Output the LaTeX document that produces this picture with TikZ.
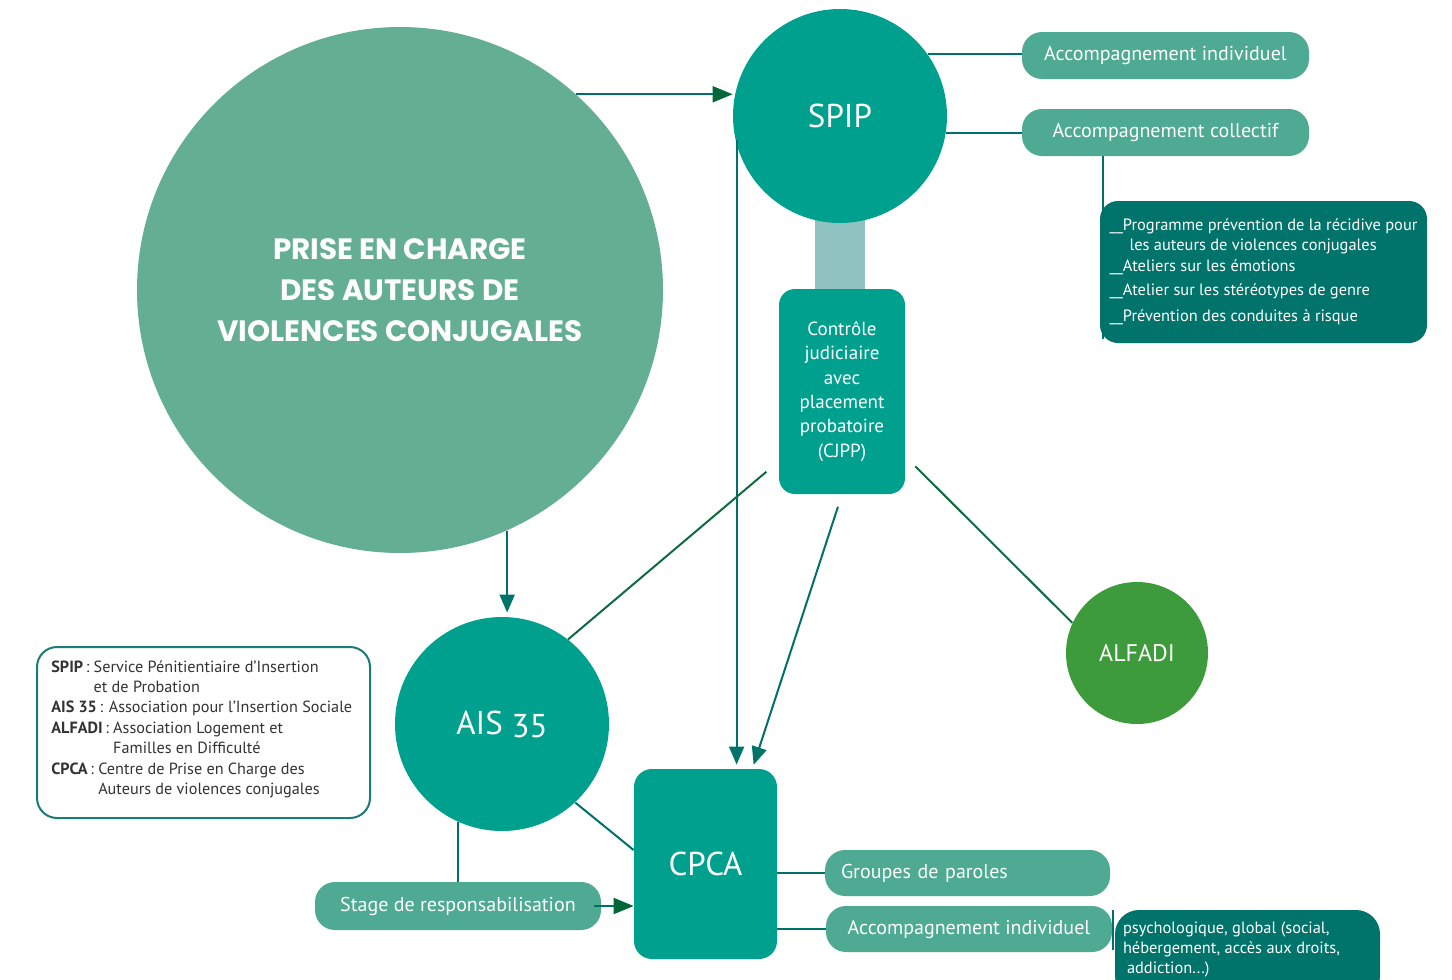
\documentclass[tikz,border=0pt]{standalone}
\usepackage{fontspec}
\setmainfont{PT Sans}
\newfontfamily\titlefont{Poppins}[UprightFont=* Bold]
\usetikzlibrary{arrows.meta,calc}
\definecolor{bigc}{HTML}{64AF93}
\definecolor{tealc}{HTML}{00A08F}
\definecolor{lblc}{HTML}{4EAA93}
\definecolor{darkc}{HTML}{00736B}
\definecolor{alfc}{HTML}{3E9B3B}
\definecolor{lightc}{HTML}{8FC2C0}
\definecolor{linec}{HTML}{00706A}
\definecolor{lineg}{HTML}{0E6B40}
\definecolor{arrg}{HTML}{006838}
\definecolor{legc}{HTML}{1B7B77}
\definecolor{legtext}{HTML}{333333}
\begin{document}
\begin{tikzpicture}[x=0.5pt,y=-0.5pt,
  circ/.style={circle, inner sep=0pt, text=white},
  lbl/.style={rectangle, rounded corners=10pt, fill=lblc, text=white,
    font=\fontsize{10}{12}\selectfont, minimum width=143.5pt, minimum height=23.5pt, inner sep=0pt},
  sq/.style={rectangle, rounded corners=8pt, fill=tealc, text=white, inner sep=0pt},
  darkbox/.style={rectangle, rounded corners=9pt, fill=darkc, text=white, inner sep=0pt},
  conn/.style={draw=linec, line width=1pt},
  gconn/.style={draw=lineg, line width=1pt},
  tarrow/.style={conn, -{Triangle[length=9pt,width=7.5pt,color=darkc]}},
  garrow/.style={conn, -{Triangle[length=10pt,width=8pt,color=arrg]}}
]
\useasboundingbox (0,0) rectangle (1452,980);
\clip (0,0) rectangle (1452,980);

% background connector between SPIP and CJPP
\node[rectangle, fill=lightc, minimum width=25pt, minimum height=36pt, inner sep=0pt] (bridge) at (840,256) {};

% main circle
\node[circ, fill=bigc, minimum size=263pt, align=center,
  font=\titlefont\fontsize{14.7}{20.5}\selectfont] (main) at (400,290)
  {PRISE EN CHARGE\\DES AUTEURS DE\\VIOLENCES CONJUGALES};

% SPIP
\node[circ, fill=tealc, minimum size=107pt, font=\fontsize{16.5}{18}\selectfont] (spip) at (840,116) {SPIP};

% CJPP
\node[sq, minimum width=63pt, minimum height=102.5pt, align=center,
  font=\fontsize{9.5}{12.2}\selectfont] (cjpp) at (842,391.5)
  {Contrôle\\judiciaire\\avec\\placement\\probatoire\\(CJPP)};

% right top labels
\node[lbl] (ind1) at (1165.5,55.5) {Accompagnement individuel};
\node[lbl] (col) at (1165.5,132.5) {Accompagnement collectif};

\node[darkbox, minimum width=163.5pt, minimum height=71pt, align=left,
  font=\fontsize{8.2}{10}\selectfont] (prog) at (1263.5,272)
  {\_\_Programme prévention de la récidive pour\\
   \hspace*{10pt}les auteurs de violences conjugales\\[0.5pt]
   \_\_Ateliers sur les émotions\\[2pt]
   \_\_Atelier sur les stéréotypes de genre\\[3pt]
   \_\_Prévention des conduites à risque};

% AIS 35
\node[circ, fill=tealc, minimum size=107pt, font=\fontsize{16.5}{18}\selectfont] (ais) at (502,724) {AIS \raisebox{-1.5pt}{35}};

% ALFADI
\node[circ, fill=alfc, minimum size=71pt, font=\fontsize{12}{14}\selectfont] (alfadi) at (1137,653) {ALFADI};

% CPCA
\node[sq, rounded corners=9pt, minimum width=71.5pt, minimum height=95pt,
  font=\fontsize{16.5}{18}\selectfont] (cpca) at (705.5,864) {CPCA};

% Stage
\node[lbl, minimum width=143pt, minimum height=24pt] (stage) at (458,906) {Stage de responsabilisation};

% bottom right labels
\node[lbl, minimum width=142.5pt, minimum height=23pt, text width=126.5pt, inner xsep=8pt, align=left] (grp) at (967.5,873) {Groupes de paroles};
\node[lbl, minimum width=143pt, minimum height=23pt] (ind2) at (969,929) {Accompagnement individuel};

\node[darkbox, rounded corners=12pt, minimum width=132.5pt, minimum height=45pt] (psy) at (1247.5,955) {};
\node[anchor=north west, align=left, text=white, inner sep=0pt,
  font=\fontsize{8.2}{10}\selectfont] (psytext) at ($(psy.north west)+(8,12)$)
  {psychologique, global (social,\\hébergement, accès aux droits,\\\hspace*{2pt}addiction...)};

% legend
\node[rectangle, rounded corners=10pt, draw=legc, line width=1pt, fill=white,
  minimum width=166.5pt, minimum height=85.5pt, inner sep=0pt] (legend) at (203.5,732.5) {};
\node[anchor=north west, align=left, text=legtext, inner sep=0pt,
  font=\fontsize{8.1}{10.2}\selectfont] (legtext) at ($(legend.north west)+(15,14)$)
  {\textbf{SPIP}\,: Service Pénitientiaire d’Insertion\\
   \phantom{\textbf{SPIP}\,: }et de Probation\\
   \textbf{AIS 35}\,: Association pour l’Insertion Sociale\\
   \textbf{ALFADI}\,: Association Logement et\\
   \phantom{\textbf{ALFADI}\,: }Familles en Difficulté\\
   \textbf{CPCA}\,: Centre de Prise en Charge des\\
   \phantom{\textbf{CPCA}\,: }Auteurs de violences conjugales};

% ---------- connectors ----------
\draw[garrow] (main.48) -- (spip.west |- main.48);
\draw[tarrow, shorten >=2pt] (main.-66) -- (main.-66 |- ais.north);

\draw[conn] (spip.35) -- (spip.35 -| ind1.west);
\draw[conn] (spip.-9) -- (spip.-9 -| col.west);
\draw[conn] ([xshift=1.5pt]col.south -| prog.west) -- ([xshift=1.5pt,yshift=2pt]prog.south west);
\draw[conn] ([xshift=-1pt]psy.north west) -- ([xshift=-1pt,yshift=-20pt]psy.north west);

\draw[tarrow, shorten >=2pt] ([xshift=2pt,yshift=-12pt]spip.west) -- ([xshift=2pt]spip.west |- cpca.north);
\draw[tarrow, shorten <=6.5pt, shorten >=2pt] (cjpp.south) -- ([xshift=-12.5pt]cpca.north east);

\draw[gconn, shorten >=8pt] (ais.52) -- ([yshift=16.5pt]cjpp.south west);
\draw[gconn, shorten <=7pt] ([yshift=19pt]cjpp.south east) -- (alfadi.155);

\draw[conn] (ais.-47) -- ([yshift=7pt]cpca.west);
\draw[conn] (ais.-114) -- (ais.-114 |- stage.north);
\draw[garrow] ([xshift=-3.5pt]stage.east) -- (stage.east -| cpca.west);

\draw[conn] (cpca.east |- grp.west) -- (grp.west);
\draw[conn] (cpca.east |- ind2.west) -- (ind2.west);
\end{tikzpicture}
\end{document}
